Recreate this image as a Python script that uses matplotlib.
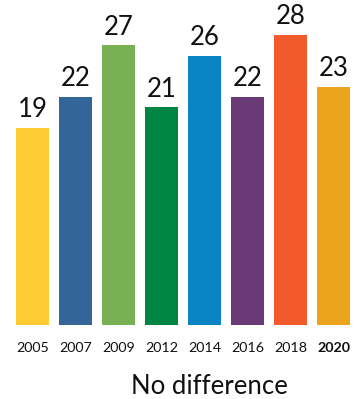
import matplotlib
matplotlib.use("Agg")
import matplotlib.pyplot as plt

years = ["2005", "2007", "2009", "2012", "2014", "2016", "2018", "2020"]
values = [19, 22, 27, 21, 26, 22, 28, 23]
colors = ["#FECC32", "#346598", "#78B154", "#008642", "#0784C1", "#6A3A76", "#F15B2C", "#ECA31D"]
title = "No difference"

plt.rcParams["font.family"] = ["Lato", "DejaVu Sans"]

W, H = 364, 399
fig = plt.figure(figsize=(W / 100, H / 100), dpi=100)

pitch = 43.0          # px between bar centres
first_center = 32.5   # px
base_px = 74.3        # px from bottom of figure to bar baseline
unit_px = 10.35       # px per value unit

ax = fig.add_axes([0, base_px / H, 1, 1 - base_px / H])
ax.set_xlim(-first_center / pitch, (W - first_center) / pitch)
ax.set_ylim(0, (H - base_px) / unit_px)
ax.axis("off")

x = list(range(len(years)))
bars = ax.bar(x, values, width=33 / pitch, color=colors)

for xi, v in zip(x, values):
    ax.annotate(str(v), (xi, v), xytext=(0, 4), textcoords="offset points",
                ha="center", va="bottom", fontsize=18.5, color="#111111")

for xi, yr in zip(x, years):
    ax.annotate(yr, (xi, 0), xytext=(0, -12.5), textcoords="offset points",
                ha="center", va="top", fontsize=10.3, color="#111111",
                fontweight="bold" if yr == "2020" else "normal",
                annotation_clip=False)

fig.text(209 / W, 1 - 386 / H, title, ha="center", va="center",
         fontsize=18.5, color="#111111")

fig.savefig("out.png", dpi=100)
